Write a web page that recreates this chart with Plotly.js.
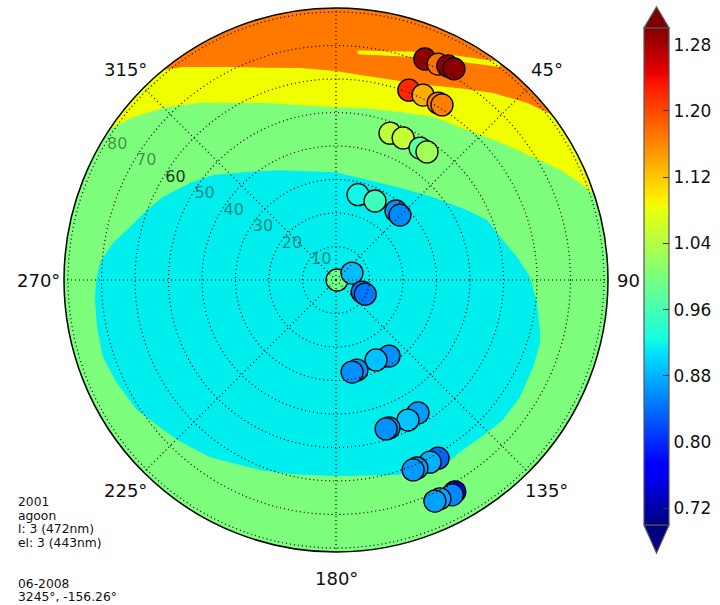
<!DOCTYPE html>
<html><head><meta charset="utf-8">
<script src="https://cdn.plot.ly/plotly-3.0.1.min.js"></script>
<style>html,body{margin:0;padding:0;background:#fff}#chart{width:720px;height:605px}</style>
</head><body><div id="chart"></div>
<script>
// ---- data (azimuth deg clockwise from N, zenith deg) ----
const markerTheta = [21.9,25.3,27.6,29.2, 21.0,25.2,30.0,31.2, 20.2,25.3,32.5,35.4, 14.5,26.3,41.0,44.6,
                     90,66.4,114.8,115.8, 145.1,153.4,166.9,170.1, 148.3,152.8,160.3,161.4,
                     150.2,152.7,156.7,157.9, 150.7,151.6,154.6,155.9];
const markerR = [71.1,71.3,72.1,72.2, 60.7,61.0,61.0,61.1, 46.7,46.9,46.7,46.9, 26.3,26.3,27.3,27.2,
                 0.3,5.2,8.6,9.7, 27.7,26.7,27.6,27.9, 46.6,47.0,46.9,46.9,
                 61.3,61.2,61.1,61.2, 72.5,72.9,72.3,72.3];
const markerValue = [1.29,1.175,1.295,1.295, 1.22,1.137,1.169,1.165, 1.049,1.052,0.98,1.027, 0.92,0.955,0.862,0.857,
                     0.99,0.887,0.846,0.845, 0.86,0.89,0.862,0.86, 0.865,0.89,0.862,0.86,
                     0.834,0.88,0.87,0.865, 0.753,0.855,0.875,0.87];

// contour band boundaries of the background field
const cyanTheta = [0,34.8,49.4,61.9,68.3,76.5,82.8,89.1,96.5,103.8,107.2,113.8,122.5,130.0,135.4,143.2,148.8,153.7,162.6,180,
                   192.5,201.8,215.4,224.8,236.8,244.8,251.7,258.9,265.3,270,274.4,279.4,284.4,290.3,295.6,303.6,310.5,320.5,333.0];
const cyanR = [32.2,33.5,38.1,44.3,48.5,51.2,54.5,57.9,60.4,62.7,63.8,64.3,65.1,65.0,64.1,63.3,63.9,63.3,61.0,58.5,
               59.4,61.1,64.9,67.3,71.0,72.3,73.3,72.7,72.2,71.6,70.6,67.5,63.5,60.2,57.3,52.3,48.3,41.8,36.8];
const yellowTheta = [303.6,308.8,315.7,322.5,338.7,0,10.2,20.9,30.8,41.1,50.1,58.0,63.8,68.3,71.7];
const yellowR = [81.2,77.7,72.2,66.7,56.7,51.6,52.1,53.7,56.7,59.4,64.0,69.3,74.5,78.4,81.2];
const orangeTheta = [320.5,324.3,334.2,342.0,350.4,0,6.7,25.0,32.9,40.0,47.2,52.6];
const orangeR = [81.2,78.3,70.6,66.6,64.2,62.4,61.6,64.2,68.2,72.9,77.8,81.2];
const stripTheta = [5.3,22.4,37.0,37.6,22.9,5.6];
const stripR = [68.8,73.6,81.6,80.3,72.0,67.7];

const starTheta = [63.5,67.1];
const starR = [82.4,82.9];
const starLabels = ['sza_misr','sza_car'];

const angTickVals = [0,45,90,135,180,225,270,315];
// 0° falls outside the picture; the degree sign of 90 is hidden behind the colour bar
const angTickText = ['','45°','90','135°','180°','225°','270°','315°'];
const radTickVals = [10,20,30,40,50,60,70,80];
const radTickText = ['10','20','30','40','50','<span style="fill:#000;fill-opacity:0.8">60</span>','70','80'];
const cbTickVals = [0.72,0.80,0.88,0.96,1.04,1.12,1.20,1.28];
const cbTickText = ['0.72','0.80','0.88','0.96','1.04','1.12','1.20','1.28'];
const infoLines = ['2001','agoon','l: 3 (472nm)','el: 3 (443nm)','','','06-2008','3245°, -156.26°'];

// ---- styling ----
const W = 720, H = 605;
const CX = 336, CY = 280, RAD = 272;
const RMAX = 81.2;          // radial range of the disk
const LABEL_PX = 298;       // distance of angular label centres from the pole (px)
const px = x => x / W, py = y => 1 - y / H;
const dom = {x:[px(CX-RAD), px(CX+RAD)], y:[py(CY+RAD), py(CY-RAD)]};
const OUT = 100; // beyond the rim; clipped by the polar disk
function closeOutside(th, r, outer) {
  return {theta: th.concat(outer), r: r.concat(outer.map(() => OUT))};
}
const yellowPoly = closeOutside(yellowTheta, yellowR, [71.7,45,15,345,315,303.6]);
const orangePoly = closeOutside(orangeTheta, orangeR, [52.6,30,0,330,320.5]);

const jet = [[0,'rgb(0,0,128)'],[0.11,'rgb(0,0,255)'],[0.125,'rgb(0,0,255)'],[0.34,'rgb(0,219,255)'],
  [0.35,'rgb(0,230,247)'],[0.375,'rgb(21,255,226)'],[0.64,'rgb(239,255,8)'],[0.65,'rgb(247,245,0)'],
  [0.66,'rgb(255,236,0)'],[0.89,'rgb(255,19,0)'],[0.91,'rgb(232,0,0)'],[1,'rgb(128,0,0)']];

const fillTrace = (th, r, col) => ({type:'scatterpolar', subplot:'polar', theta:th, r:r, mode:'lines',
  fill:'toself', fillcolor:col, line:{width:0, color:col}, hoverinfo:'skip', showlegend:false});

const traces = [
  fillTrace(cyanTheta, cyanR, 'rgb(0,238,238)'),
  fillTrace(yellowPoly.theta, yellowPoly.r, 'rgb(240,255,0)'),
  fillTrace(orangePoly.theta, orangePoly.r, 'rgb(255,120,0)'),
  fillTrace(stripTheta, stripR, 'rgb(240,255,0)'),
  {type:'scatterpolar', subplot:'polar', theta:markerTheta, r:markerR, mode:'markers',
   marker:{size:22, color:markerValue, colorscale:jet, cmin:0.70, cmax:1.30,
     line:{color:'black', width:1.3}, showscale:true,
     colorbar:{x:px(644), xanchor:'left', xpad:0, thickness:25, thicknessmode:'pixels',
       len:497, lenmode:'pixels', y:py(276.5), yanchor:'middle', ypad:0,
       outlinewidth:1.2, outlinecolor:'#555', ticks:'inside', ticklen:6, tickcolor:'#333',
       tickmode:'array', tickvals:cbTickVals, ticktext:cbTickText,
       tickfont:{size:17, color:'#111', family:'DejaVu Sans'}}},
   showlegend:false},
  {type:'scatterpolar', subplot:'polar2', theta:starTheta, r:starR, mode:'markers+text',
   text:starLabels, textposition:'middle right', cliponaxis:false,
   textfont:{size:9.5, color:'#111', family:'DejaVu Sans'},
   marker:{symbol:'star', size:12, color:'black'}, showlegend:false, hoverinfo:'skip'}
];

const triTop = `M ${px(644)} ${py(28)} L ${px(669)} ${py(28)} L ${px(656.5)} ${py(7)} Z`;
const triBot = `M ${px(644)} ${py(525)} L ${px(669)} ${py(525)} L ${px(656.5)} ${py(553)} Z`;

const annotations = infoLines.map((t, i) => ({
  xref:'paper', yref:'paper', x:px(17), y:py(502 + i*13.6), xanchor:'left', yanchor:'middle',
  text:t, showarrow:false, align:'left', borderpad:0, font:{size:12.3, color:'#111', family:'DejaVu Sans'}
}));
// angular tick labels: centred at a fixed distance outside the rim, as the original renderer does
angTickVals.forEach((a, i) => {
  if (!angTickText[i]) return;
  const rad = a * Math.PI / 180;
  const xa = CX + LABEL_PX*Math.sin(rad), ya = CY - LABEL_PX*Math.cos(rad);
  annotations.push({xref:'paper', yref:'paper', x:px(a === 90 ? xa - 6 : xa), y:py(ya),
    xanchor:'center', yanchor:'middle', text:angTickText[i], showarrow:false, borderpad:0,
    font:{size:18, color:'#111', family:'DejaVu Sans'}});
});

const gridDash = '1px,3px';
const layout = {
  width:W, height:H, margin:{l:0,r:0,t:0,b:0}, paper_bgcolor:'white', showlegend:false,
  font:{family:'DejaVu Sans', color:'#111'},
  polar:{domain:dom, bgcolor:'rgb(125,255,125)',
    angularaxis:{rotation:90, direction:'clockwise', showgrid:false, showline:false, showticklabels:false, ticks:''},
    radialaxis:{range:[0,RMAX], showgrid:false, showline:false, showticklabels:false, ticks:''}},
  polar2:{domain:dom, bgcolor:'rgba(0,0,0,0)',
    angularaxis:{rotation:90, direction:'clockwise', tickmode:'array', tickvals:angTickVals,
      showticklabels:false,
      showline:true, linecolor:'black', linewidth:1.5, showgrid:true, gridcolor:'black', griddash:gridDash, gridwidth:1.2,
      ticks:''},
    radialaxis:{range:[0,RMAX], tickmode:'array', tickvals:radTickVals, ticktext:radTickText, angle:150.5, tickangle:150.5,
      showline:false, ticks:'', showgrid:true, gridcolor:'black', griddash:gridDash, gridwidth:1.2,
      tickfont:{size:16, color:'rgba(0,0,0,0.45)', family:'DejaVu Sans'}}},
  shapes:[
    {type:'path', xref:'paper', yref:'paper', path:triTop, fillcolor:'rgb(128,0,0)', line:{color:'#555', width:1.2}},
    {type:'path', xref:'paper', yref:'paper', path:triBot, fillcolor:'rgb(0,0,128)', line:{color:'#555', width:1.2}}
  ],
  annotations:annotations
};

Plotly.newPlot('chart', traces, layout, {staticPlot:true, displayModeBar:false});
</script></body></html>
